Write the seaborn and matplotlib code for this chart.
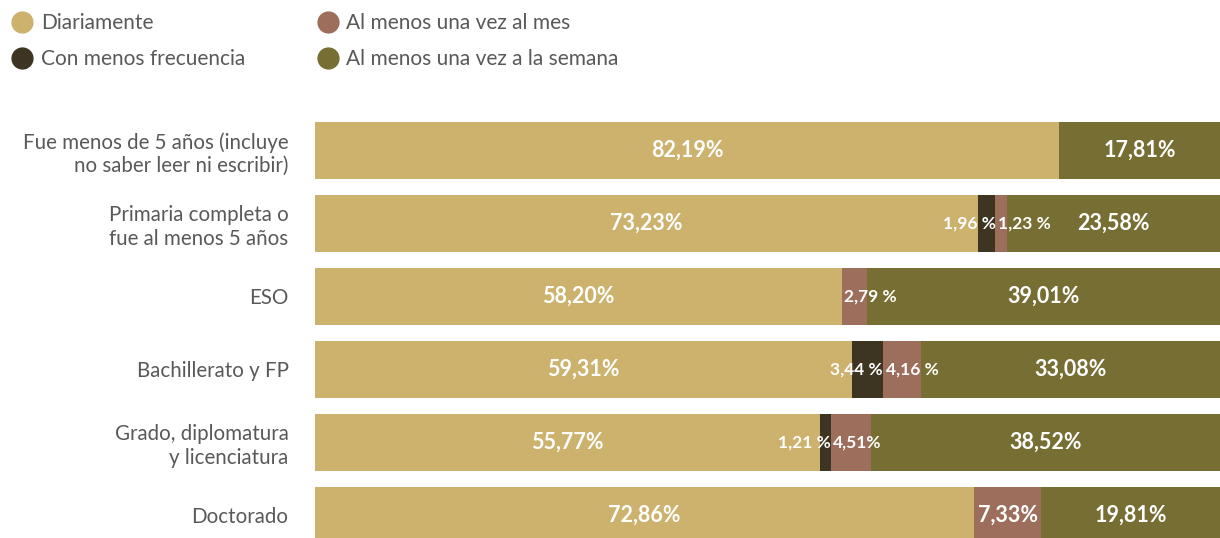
import numpy as np
import pandas as pd
import matplotlib
matplotlib.use("Agg")
import matplotlib.pyplot as plt
from matplotlib.lines import Line2D
import seaborn as sns

# data
categorias = [
    "Fue menos de 5 años (incluye\nno saber leer ni escribir)",
    "Primaria completa o\nfue al menos 5 años",
    "ESO",
    "Bachillerato y FP",
    "Grado, diplomatura\ny licenciatura",
    "Doctorado",
]
series = ["Diariamente", "Con menos frecuencia", "Al menos una vez al mes", "Al menos una vez a la semana"]
diariamente = [82.19, 73.23, 58.20, 59.31, 55.77, 72.86]
menos_frec = [0.0, 1.96, 0.0, 3.44, 1.21, 0.0]
una_vez_mes = [0.0, 1.23, 2.79, 4.16, 4.51, 7.33]
una_vez_semana = [17.81, 23.58, 39.01, 33.08, 38.52, 19.81]

colores = ["#CDB26E", "#3D3522", "#9E6E5C", "#776E34"]

sns.set_style("white")
plt.rcParams['font.family'] = ['Lato', 'DejaVu Sans']

df = pd.DataFrame({
    "cat": categorias,
    series[0]: diariamente,
    series[1]: menos_frec,
    series[2]: una_vez_mes,
    series[3]: una_vez_semana,
})
valores = df[series].to_numpy()
acum = np.cumsum(valores, axis=1)

fig = plt.figure(figsize=(12.2, 5.38), dpi=100)
ax = fig.add_axes([315 / 1220, 0, 905 / 1220, 438 / 538])

# stacked bars: draw cumulative totals from the outside in
for j in range(3, -1, -1):
    sns.barplot(x=acum[:, j], y=df["cat"], orient="h", color=colores[j],
                width=0.78, saturation=1, linewidth=0, ax=ax, zorder=2)

ax.set_xlim(0, 100)
ax.set_ylim(5.31, -0.69)
ax.set_xlabel("")
ax.set_ylabel("")
ax.set_xticks([])
for s in ax.spines.values():
    s.set_visible(False)
ax.tick_params(axis="y", length=0, pad=19, labelsize=14.8, labelcolor="#595959")

# value labels
for i in range(len(categorias)):
    for j in range(4):
        v = valores[i, j]
        if v <= 0:
            continue
        inicio = acum[i, j] - v
        txt = f"{v:.2f}".replace(".", ",") + (" %" if v < 4.5 else "%")
        if v >= 5:
            ax.text(inicio + v / 2, i, txt, ha="center", va="center",
                    color="white", fontsize=15.5, fontweight="bold", zorder=3)
        elif j == 1:
            ax.text(acum[i, j], i, txt, ha="right", va="center",
                    color="white", fontsize=12.5, fontweight="bold", zorder=3)
        else:
            ax.text(inicio + 0.3, i, txt, ha="left", va="center",
                    color="white", fontsize=12.5, fontweight="bold", zorder=3)

handles = [Line2D([0], [0], marker="o", linestyle="", markersize=15,
                  markerfacecolor=c, markeredgecolor=c) for c in colores]
fig.legend(handles, series, loc="upper left", bbox_to_anchor=(0.002, 0.989),
           ncol=2, frameon=False, fontsize=15, labelcolor="#595959",
           handletextpad=0.3, columnspacing=3.35, labelspacing=0.75,
           handlelength=1.2, borderaxespad=0.25, borderpad=0.1)

fig.savefig("out.png", dpi=100)
